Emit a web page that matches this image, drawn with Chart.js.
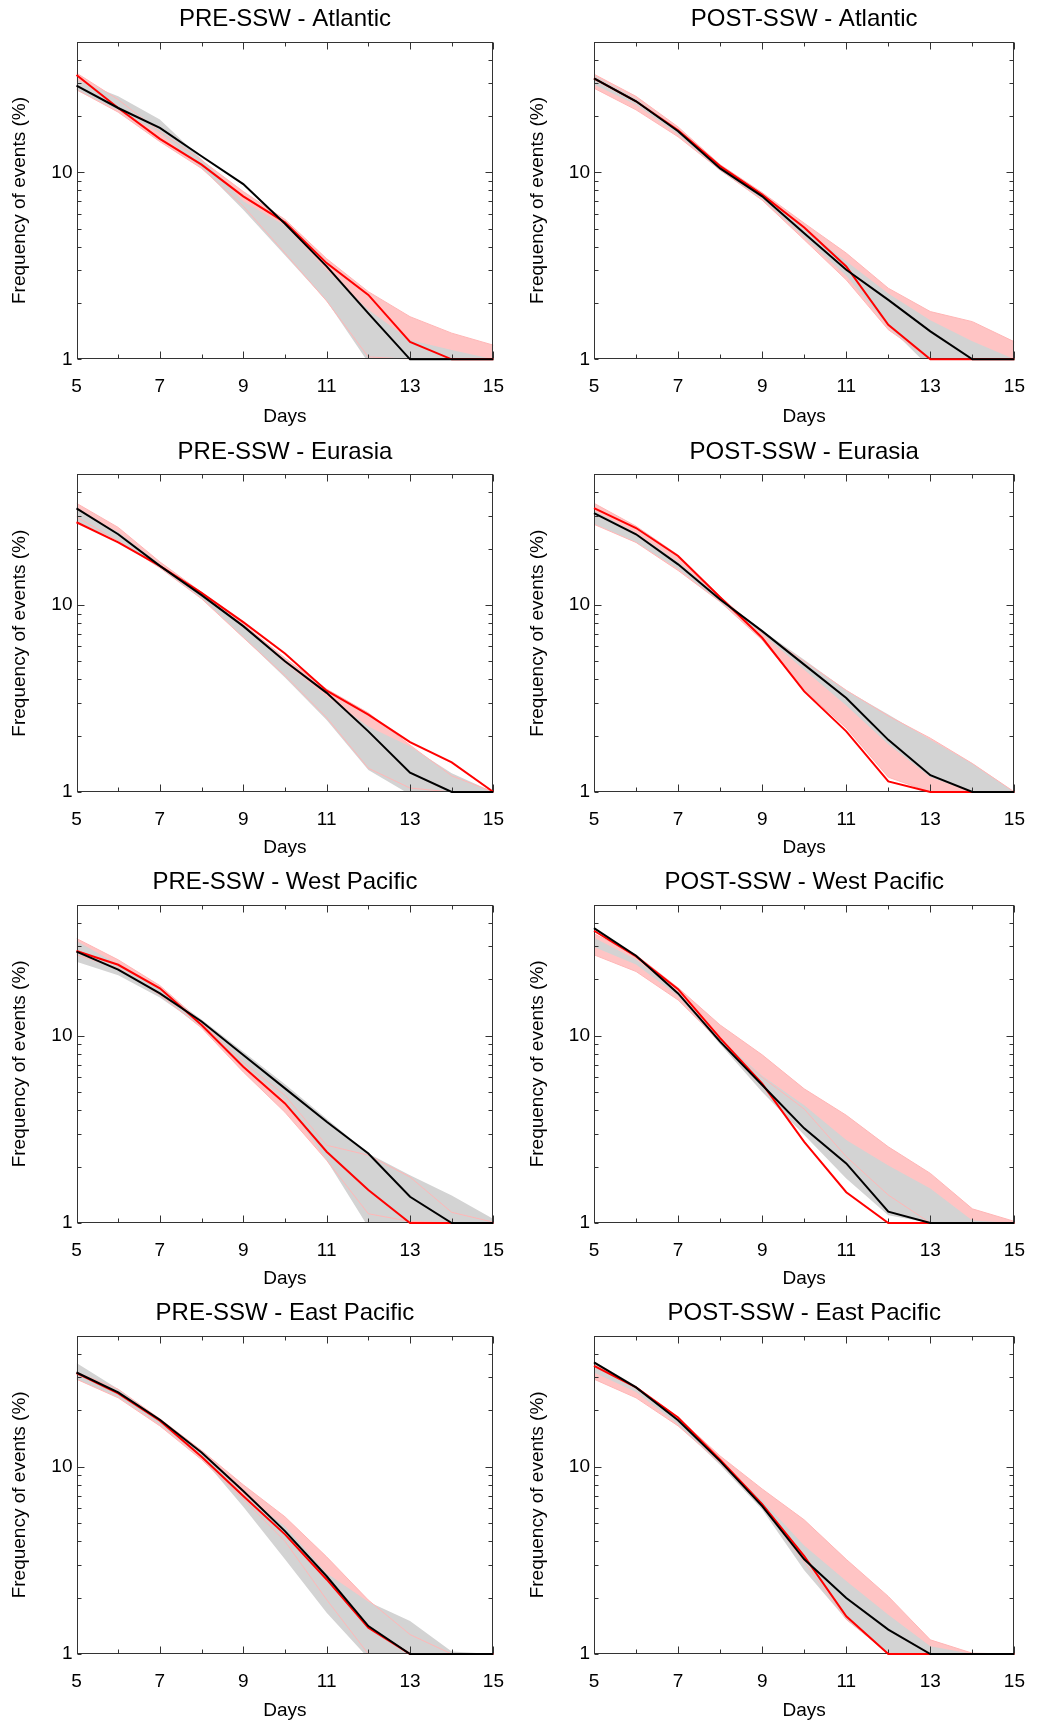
<!DOCTYPE html>
<html>
<head>
  <title>Persistence frequency PRE/POST SSW</title>
  <script src="https://cdn.jsdelivr.net/npm/chart.js"></script>
  <style>
    body { margin: 0; background: #fff; }
    #grid {
      display: grid;
      grid-template-columns: 520px 521px;
      grid-template-rows: 431px 431px 431px 432px;
    }
    canvas { display: block; }
  </style>
</head>
<body>
  <div id="grid"></div>

  <script>
    // x axis: duration in days
    const days = [5, 6, 7, 8, 9, 10, 11, 12, 13, 14, 15];
    const yMinorTicks = [1, 2, 3, 4, 5, 6, 7, 8, 9, 10, 20, 30, 40, 50];
    const yLabelled = [1, 10];

    // PRE-SSW - Atlantic
    const preAtlBlack  = [29.1, 22.1, 17.3, 12.2, 8.66, 5.31, 3.14, 1.76, 1.0, 1.0, 1.0];
    const preAtlRed    = [33.2, 22.1, 15.1, 11.0, 7.44, 5.40, 3.27, 2.21, 1.24, 1.0, 1.0];
    const preAtlGrayHi = [31.3, 25.5, 19.2, 11.8, 7.0, 5.2, 3.0, 1.84, 1.27, 1.12, 1.0];
    const preAtlGrayLo = [27.5, 21.5, 16.2, 10.6, 6.3, 3.6, 2.05, 0.96, 0.5, 0.5, 0.5];
    const preAtlPinkHi = [34.0, 24.5, 16.5, 11.6, 7.9, 5.6, 3.45, 2.3, 1.69, 1.38, 1.19];
    const preAtlPinkLo = [27.7, 21.0, 14.6, 10.5, 6.6, 3.7, 2.05, 1.03, 1.0, 1.0, 1.0];

    // POST-SSW - Atlantic
    const postAtlBlack  = [31.8, 24.0, 16.6, 10.5, 7.44, 4.73, 3.01, 2.08, 1.41, 1.0, 1.0];
    const postAtlRed    = [31.8, 24.0, 16.8, 10.8, 7.6, 5.07, 3.14, 1.53, 1.0, 1.0, 1.0];
    const postAtlGrayHi = [33.0, 24.8, 17.0, 10.7, 7.6, 4.95, 3.35, 2.25, 1.62, 1.25, 1.0];
    const postAtlGrayLo = [29.5, 23.0, 16.0, 10.2, 7.2, 4.5, 2.8, 1.5, 0.9, 0.5, 0.5];
    const postAtlPinkHi = [33.5, 25.5, 17.5, 11.0, 7.8, 5.35, 3.7, 2.4, 1.8, 1.59, 1.24];
    const postAtlPinkLo = [28.2, 21.6, 15.5, 10.3, 7.1, 4.36, 2.66, 1.44, 1.0, 1.0, 1.0];

    // PRE-SSW - Eurasia
    const preEurBlack  = [32.9, 23.9, 16.2, 11.3, 7.71, 5.0, 3.39, 2.11, 1.27, 1.0, 1.0];
    const preEurRed    = [27.7, 21.6, 16.2, 11.6, 8.1, 5.5, 3.48, 2.59, 1.85, 1.44, 1.0];
    const preEurGrayHi = [32.5, 24.5, 16.5, 11.4, 7.7, 4.9, 3.25, 2.24, 1.75, 1.26, 1.0];
    const preEurGrayLo = [28.0, 22.0, 15.8, 10.9, 6.7, 4.1, 2.43, 1.31, 0.97, 0.9, 0.9];
    const preEurPinkHi = [35.0, 26.0, 17.0, 11.7, 7.9, 5.2, 3.55, 2.65, 1.78, 1.22, 1.0];
    const preEurPinkLo = [29.6, 22.0, 15.8, 10.8, 6.7, 4.2, 2.5, 1.34, 1.05, 1.0, 1.0];

    // POST-SSW - Eurasia
    const postEurBlack  = [31.0, 23.9, 16.5, 10.7, 7.25, 4.8, 3.18, 1.9, 1.23, 1.0, 1.0];
    const postEurRed    = [33.0, 25.8, 18.3, 11.0, 6.68, 3.45, 2.11, 1.14, 1.0, 1.0, 1.0];
    const postEurGrayHi = [32.0, 24.3, 17.0, 10.9, 7.3, 5.1, 3.5, 2.6, 1.9, 1.42, 1.0];
    const postEurGrayLo = [27.2, 21.6, 15.6, 10.4, 7.0, 4.5, 2.9, 1.8, 1.2, 1.0, 1.0];
    const postEurPinkHi = [35.0, 26.4, 18.5, 11.1, 7.1, 5.0, 3.5, 2.55, 1.94, 1.42, 1.0];
    const postEurPinkLo = [27.0, 21.6, 15.3, 10.4, 6.5, 3.5, 2.2, 1.2, 1.0, 1.0, 1.0];

    // PRE-SSW - West Pacific
    const preWpBlack  = [28.1, 22.5, 16.8, 11.9, 7.88, 5.23, 3.47, 2.35, 1.38, 1.0, 1.0];
    const preWpRed    = [28.3, 23.9, 17.9, 11.4, 6.83, 4.35, 2.4, 1.5, 1.0, 1.0, 1.0];
    const preWpGrayHi = [32.0, 24.0, 17.7, 12.2, 8.2, 5.5, 3.6, 2.35, 1.8, 1.4, 1.05];
    const preWpGrayLo = [24.8, 21.0, 16.0, 11.2, 7.0, 4.5, 2.16, 0.95, 0.5, 0.5, 0.5];
    const preWpPinkHi = [33.0, 25.4, 18.5, 11.8, 7.2, 4.8, 2.6, 2.3, 1.76, 1.14, 1.01];
    const preWpPinkLo = [27.0, 22.9, 16.5, 11.0, 6.4, 3.9, 2.16, 1.12, 1.02, 1.0, 1.0];

    // POST-SSW - West Pacific
    const postWpBlack  = [37.5, 26.7, 16.8, 9.29, 5.45, 3.2, 2.08, 1.15, 1.0, 1.0, 1.0];
    const postWpRed    = [36.3, 26.5, 17.7, 9.7, 5.55, 2.71, 1.46, 1.0, 1.0, 1.0, 1.0];
    const postWpGrayHi = [33.3, 25.5, 17.0, 9.6, 6.1, 4.25, 2.77, 2.03, 1.53, 1.03, 1.0];
    const postWpGrayLo = [29.7, 24.0, 16.3, 9.0, 5.0, 2.95, 1.73, 1.1, 1.0, 1.0, 1.0];
    const postWpPinkHi = [35.0, 27.0, 18.0, 11.4, 7.9, 5.2, 3.76, 2.55, 1.84, 1.19, 1.02];
    const postWpPinkLo = [27.0, 22.0, 15.5, 9.3, 6.0, 4.06, 2.26, 1.41, 1.0, 1.0, 1.0];

    // PRE-SSW - East Pacific
    const preEpBlack  = [31.8, 24.9, 17.8, 11.9, 7.41, 4.53, 2.6, 1.41, 1.0, 1.0, 1.0];
    const preEpRed    = [31.6, 24.6, 17.6, 11.3, 6.97, 4.35, 2.5, 1.38, 1.0, 1.0, 1.0];
    const preEpGrayHi = [35.8, 26.0, 17.6, 12.0, 7.1, 4.8, 2.7, 1.9, 1.5, 1.03, 1.0];
    const preEpGrayLo = [29.3, 23.5, 16.8, 11.2, 6.1, 3.2, 1.66, 0.95, 0.5, 0.5, 0.5];
    const preEpPinkHi = [32.0, 25.9, 18.0, 12.2, 8.0, 5.4, 3.3, 1.94, 1.27, 1.0, 1.0];
    const preEpPinkLo = [29.3, 23.3, 16.5, 10.9, 6.7, 4.0, 1.95, 1.0, 1.0, 1.0, 1.0];

    // POST-SSW - East Pacific
    const postEpBlack  = [36.0, 26.5, 17.7, 10.7, 6.16, 3.2, 1.99, 1.35, 1.0, 1.0, 1.0];
    const postEpRed    = [34.5, 26.5, 18.3, 10.9, 6.3, 3.33, 1.59, 1.0, 1.0, 1.0, 1.0];
    const postEpGrayHi = [36.5, 27.0, 17.6, 10.8, 6.6, 3.8, 2.45, 1.62, 1.1, 1.0, 1.0];
    const postEpGrayLo = [31.8, 25.0, 16.8, 10.2, 5.9, 2.8, 1.53, 1.0, 1.0, 1.0, 1.0];
    const postEpPinkHi = [35.2, 26.5, 18.3, 11.4, 7.6, 5.2, 3.2, 2.03, 1.19, 1.01, 1.0];
    const postEpPinkLo = [29.3, 23.3, 16.5, 10.5, 6.16, 3.1, 1.53, 1.01, 1.0, 1.0, 1.0];

    const panels = [
      { title: 'PRE-SSW - Atlantic', black: preAtlBlack, red: preAtlRed, grayHi: preAtlGrayHi, grayLo: preAtlGrayLo, pinkHi: preAtlPinkHi, pinkLo: preAtlPinkLo },
      { title: 'POST-SSW - Atlantic', black: postAtlBlack, red: postAtlRed, grayHi: postAtlGrayHi, grayLo: postAtlGrayLo, pinkHi: postAtlPinkHi, pinkLo: postAtlPinkLo },
      { title: 'PRE-SSW - Eurasia', black: preEurBlack, red: preEurRed, grayHi: preEurGrayHi, grayLo: preEurGrayLo, pinkHi: preEurPinkHi, pinkLo: preEurPinkLo },
      { title: 'POST-SSW - Eurasia', black: postEurBlack, red: postEurRed, grayHi: postEurGrayHi, grayLo: postEurGrayLo, pinkHi: postEurPinkHi, pinkLo: postEurPinkLo },
      { title: 'PRE-SSW - West Pacific', black: preWpBlack, red: preWpRed, grayHi: preWpGrayHi, grayLo: preWpGrayLo, pinkHi: preWpPinkHi, pinkLo: preWpPinkLo },
      { title: 'POST-SSW - West Pacific', black: postWpBlack, red: postWpRed, grayHi: postWpGrayHi, grayLo: postWpGrayLo, pinkHi: postWpPinkHi, pinkLo: postWpPinkLo },
      { title: 'PRE-SSW - East Pacific', black: preEpBlack, red: preEpRed, grayHi: preEpGrayHi, grayLo: preEpGrayLo, pinkHi: preEpPinkHi, pinkLo: preEpPinkLo },
      { title: 'POST-SSW - East Pacific', black: postEpBlack, red: postEpRed, grayHi: postEpGrayHi, grayLo: postEpGrayLo, pinkHi: postEpPinkHi, pinkLo: postEpPinkLo }
    ];

    const PINK_FILL = 'rgb(255,196,196)';
    const PINK_EDGE = 'rgb(255,182,182)';
    const GRAY_FILL = 'rgb(211,211,211)';

    Chart.defaults.font.family = "'Liberation Sans', Arial, Helvetica, sans-serif";
    Chart.defaults.color = '#000';

    // IDL style box with inward ticks on all four sides,
    // drawn after the shaded bands but under the red/black curves
    const framePlugin = {
      id: 'frame',
      afterDatasetDraw(chart, args) {
        if (args.index !== 4) return;
        const { ctx, chartArea: a, scales: { x, y } } = chart;
        ctx.save();
        ctx.strokeStyle = '#333';
        ctx.lineWidth = 1;
        const L = Math.round(a.left) + 0.5, R = Math.round(a.right) - 0.5;
        const T = Math.round(a.top) + 0.5, B = Math.round(a.bottom) - 0.5;
        ctx.strokeRect(L, T, R - L, B - T);
        ctx.beginPath();
        days.forEach(d => {
          const px = Math.round(x.getPixelForValue(d)) + 0.5;
          const len = d % 2 ? 7 : 4;
          ctx.moveTo(px, B); ctx.lineTo(px, B - len);
          ctx.moveTo(px, T); ctx.lineTo(px, T + len);
        });
        yMinorTicks.forEach(v => {
          const py = Math.round(y.getPixelForValue(v)) + 0.5;
          const len = v === 10 ? 7 : 4;
          ctx.moveTo(L, py); ctx.lineTo(L + len, py);
          ctx.moveTo(R, py); ctx.lineTo(R - len, py);
        });
        ctx.stroke();
        ctx.restore();
      }
    };

    const rowStart = [0, 431, 862, 1293];
    const rowHeight = [431, 431, 431, 432];
    const plotTop = [41.7, 474.3, 904.7, 1335.7];
    const plotBottom = [359.3, 792, 1223, 1654];

    function pts(arr) {
      return days.map((d, i) => ({ x: d, y: arr[i] }));
    }

    function lineSet(arr, color, width, order, fill) {
      return {
        data: pts(arr),
        borderColor: color,
        borderWidth: width,
        backgroundColor: fill || 'transparent',
        fill: fill ? '+1' : false,
        pointRadius: 0,
        tension: 0,
        order: order
      };
    }

    function curve(arr, color, order) {
      const ds = lineSet(arr, color, 2, order);
      ds.clip = false;
      return ds;
    }

    const grid = document.getElementById('grid');

    panels.forEach((p, i) => {
      const row = Math.floor(i / 2), col = i % 2;
      const W = col === 0 ? 520 : 521;
      const H = rowHeight[row];
      const topRel = plotTop[row] - rowStart[row];
      const botRel = plotBottom[row] - rowStart[row];
      const yAxisWidth = col === 0 ? 76.5 : 74;
      const rightPad = col === 0 ? 11.7 : 13.7;

      const canvas = document.createElement('canvas');
      canvas.width = W;
      canvas.height = H;
      grid.appendChild(canvas);

      new Chart(canvas, {
        type: 'line',
        data: {
          datasets: [
            lineSet(p.pinkHi, 'transparent', 0, 5, PINK_FILL),
            lineSet(p.pinkLo, 'transparent', 0, 5),
            lineSet(p.grayHi, 'transparent', 0, 4, GRAY_FILL),
            lineSet(p.grayLo, 'transparent', 0, 4),
            lineSet(p.pinkHi, PINK_EDGE, 1, 3),
            lineSet(p.pinkLo, PINK_EDGE, 1, 3),
            curve(p.red, '#ff0000', 1),
            curve(p.black, '#000000', 0)
          ]
        },
        options: {
          responsive: false,
          animation: false,
          layout: {
            padding: { left: 0, right: rightPad, top: topRel - 41.8, bottom: 0 }
          },
          plugins: {
            legend: { display: false },
            tooltip: { enabled: false },
            title: {
              display: true,
              text: p.title,
              fullSize: false,
              color: '#000',
              font: { size: 24, weight: 'normal' },
              padding: { top: 5.4, bottom: 7.6 }
            }
          },
          scales: {
            x: {
              type: 'linear',
              min: 5,
              max: 15,
              grid: { display: false, drawTicks: false },
              border: { display: false },
              ticks: { stepSize: 2, autoSkip: false, padding: 16, font: { size: 19 } },
              title: { display: true, text: 'Days', font: { size: 19 }, padding: { top: 0, bottom: 2.6 } },
              afterFit(s) { s.height = H - botRel; }
            },
            y: {
              type: 'logarithmic',
              min: 1,
              max: 50,
              grid: { display: false, drawTicks: false },
              border: { display: false },
              afterBuildTicks(s) { s.ticks = yMinorTicks.map(v => ({ value: v })); },
              ticks: {
                autoSkip: false,
                padding: 4,
                font: { size: 19 },
                callback: v => (yLabelled.includes(v) ? String(v) : '')
              },
              title: { display: true, text: 'Frequency of events (%)', font: { size: 19 }, padding: { top: col === 0 ? 8.6 : 6.6, bottom: 0 } },
              afterFit(s) { s.width = yAxisWidth; }
            }
          }
        },
        plugins: [framePlugin]
      });
    });
  </script>
</body>
</html>
